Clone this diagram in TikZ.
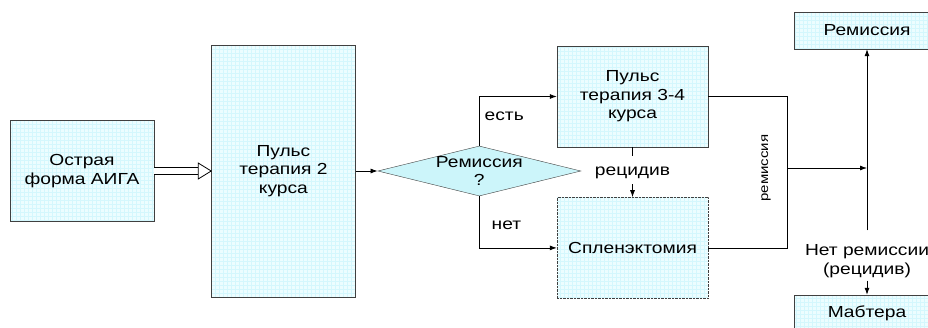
\documentclass[tikz,border=0pt]{standalone}
\usepackage{fontspec}
\setmainfont{Liberation Sans}[FakeStretch=1.2]
\usetikzlibrary{arrows.meta,positioning,shapes.geometric}

\definecolor{boxfill}{RGB}{236,253,255}
\definecolor{gridcol}{RGB}{212,247,253}
\definecolor{diamfill}{RGB}{204,245,250}

\begin{document}
\begin{tikzpicture}[x=1pt, y=1pt,
  box/.style={rectangle, draw=black!75, fill=boxfill, inner sep=0pt, align=center,
              path picture={\draw[gridcol, solid, line width=0.3pt, step=4pt]
                (path picture bounding box.south west) grid (path picture bounding box.north east);}},
  arr/.style={-{Latex[length=7pt,width=5pt]}, line width=0.8pt},
  dblarr/.style={double, double distance=6.5pt, line width=0.8pt, shorten >=13pt},
  lbl/.style={inner sep=2pt, align=center},
  font=\fontsize{16}{18.5}\selectfont
]
\useasboundingbox[fill=white] (0,0) rectangle (928,-327);

% Start and first course
\node[box, minimum width=144pt, minimum height=101pt] (aiga) at (82,-171) {Острая\\форма АИГА};
\node[box, minimum width=144pt, minimum height=252pt, right=57pt of aiga] (puls2) {Пульс\\терапия 2\\курса};

% Decision
\node[diamond, draw=black!75, fill=diamfill, aspect=4, align=center, inner xsep=0pt, inner ysep=-8pt,
      minimum width=203pt, minimum height=50pt, right=22pt of puls2] (remq) {Ремиссия\\?};

% Branches
\node[box, minimum width=151pt, minimum height=101pt] (puls34) at (632.5,-96.5) {Пульс\\терапия 3-4\\курса};
\node[box, dash pattern=on 0.7pt off 0.7pt, minimum width=151pt, minimum height=101pt,
      below=50pt of puls34] (splen) {Спленэктомия};
\node[lbl, minimum height=22pt] (relapse) at (632.5,-173) {рецидив};

% Outcomes
\node[box, minimum width=146pt, minimum height=37pt] (remis) at (867,-30.5) {Ремиссия};
\node[box, minimum width=146pt, minimum height=37pt] (mabt) at (867,-313.5) {Мабтера};
\node[lbl, inner sep=3pt] (norem) at (867,-261) {Нет ремиссии\\(рецидив)};

\coordinate (jn) at (787,-168);
\node[rotate=90, inner sep=1pt, font=\fontsize{12.5}{14}\selectfont] (remlbl) at ([xshift=-21pt]jn) {ремиссия};

% Arrows
\draw[dblarr] (aiga) -- (puls2);
\draw[line width=0.8pt, fill=white, line join=miter] (puls2.west) -- ++(-13,8) -- ++(0,-16) -- cycle;
\draw[arr] (puls2) -- (remq);
\draw[arr] (remq.north) |- (puls34.west) node[lbl, pos=0.3, right=3pt] (yes) {есть};
\draw[arr] (remq.south) |- (splen.west) node[lbl, pos=0.28, right=10pt] (no) {нет};
\draw[line width=0.8pt, shorten >=6pt] (puls34.south) -- (relapse.north);
\draw[arr] (relapse.south) -- (splen.north);
\draw[line width=0.8pt] (puls34.east) -| (jn) |- (splen.east);
\draw[arr] (jn) -- (jn -| remis.south);
\draw[arr, shorten <=11pt] (norem.north) -- (remis.south);
\draw[arr] (norem) -- (mabt);
\end{tikzpicture}
\end{document}
